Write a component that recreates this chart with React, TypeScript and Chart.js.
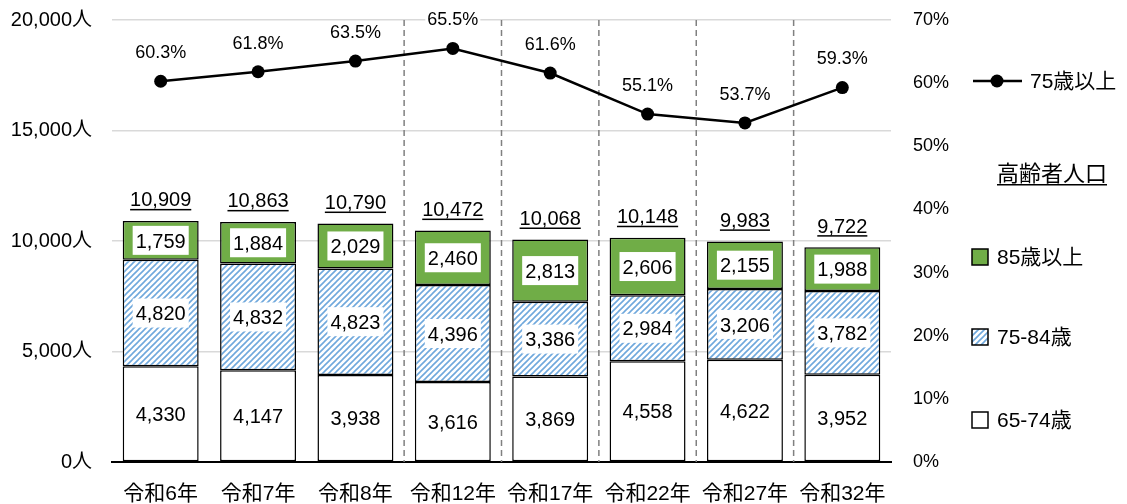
import React, { useEffect, useRef } from "react";
import { Chart, registerables } from "chart.js";

Chart.register(...registerables);

const categories = ["令和6年", "令和7年", "令和8年", "令和12年", "令和17年", "令和22年", "令和27年", "令和32年"];
const age65to74 = [4330, 4147, 3938, 3616, 3869, 4558, 4622, 3952];
const age75to84 = [4820, 4832, 4823, 4396, 3386, 2984, 3206, 3782];
const age85plus = [1759, 1884, 2029, 2460, 2813, 2606, 2155, 1988];
const totals = [10909, 10863, 10790, 10472, 10068, 10148, 9983, 9722];
const ratio75plus = [60.3, 61.8, 63.5, 65.5, 61.6, 55.1, 53.7, 59.3];
const dividerAfter = [2, 3, 4, 5, 6];

const FONT = "'Liberation Sans', 'Noto Sans CJK JP', sans-serif";
const GREEN = "#70AD47";
const BLUE = "#6FA8DC";

function makeHatch(): CanvasPattern | string {
  const c = document.createElement("canvas");
  const s = 6;
  c.width = s;
  c.height = s;
  const g = c.getContext("2d");
  if (!g) return "#ffffff";
  g.fillStyle = "#ffffff";
  g.fillRect(0, 0, s, s);
  g.strokeStyle = BLUE;
  g.lineWidth = 1.6;
  g.lineCap = "square";
  for (const off of [-s, 0, s]) {
    g.beginPath();
    g.moveTo(off, s);
    g.lineTo(off + s, 0);
    g.stroke();
  }
  const p = g.createPattern(c, "repeat");
  return p || "#ffffff";
}

function fmt(n: number) {
  return n.toLocaleString("en-US");
}

function noPad(scale: any) {
  scale.paddingTop = 0;
  scale.paddingBottom = 0;
}

export default function App() {
  const ref = useRef<HTMLCanvasElement | null>(null);

  useEffect(() => {
    const canvas = ref.current;
    if (!canvas) return;
    const hatch = makeHatch();

    const dividers = {
      id: "dividers",
      beforeDatasetsDraw(chart: any) {
        const { ctx, chartArea } = chart;
        const xs = chart.scales.x;
        ctx.save();
        ctx.strokeStyle = "#808080";
        ctx.lineWidth = 1.5;
        ctx.setLineDash([6, 4]);
        for (const i of dividerAfter) {
          const x = (xs.getPixelForValue(i) + xs.getPixelForValue(i + 1)) / 2;
          ctx.beginPath();
          ctx.moveTo(x, chartArea.top);
          ctx.lineTo(x, chartArea.bottom);
          ctx.stroke();
        }
        ctx.restore();
      },
    };

    const labels = {
      id: "labels",
      afterDatasetsDraw(chart: any) {
        const { ctx } = chart;
        ctx.save();
        ctx.font = `20px ${FONT}`;
        ctx.textAlign = "center";
        ctx.textBaseline = "alphabetic";
        const barSets = [1, 2, 3];
        barSets.forEach((di, k) => {
          const meta = chart.getDatasetMeta(di);
          const values = chart.data.datasets[di].data as number[];
          meta.data.forEach((el: any, j: number) => {
            const cy = (el.y + el.base) / 2;
            const txt = fmt(values[j]);
            const w = ctx.measureText(txt).width;
            if (k > 0) {
              ctx.fillStyle = "#ffffff";
              ctx.fillRect(el.x - w / 2 - 3, cy - 14.5, w + 6, 29);
            }
            ctx.fillStyle = "#000000";
            ctx.fillText(txt, el.x, cy + 7.2);
          });
        });
        // totals
        const topMeta = chart.getDatasetMeta(3);
        topMeta.data.forEach((el: any, j: number) => {
          const txt = fmt(totals[j]);
          const w = ctx.measureText(txt).width;
          const by = el.y - 14.5;
          ctx.fillStyle = "#000000";
          ctx.fillText(txt, el.x, by);
          ctx.fillRect(el.x - w / 2, by + 2.5, w, 1.5);
        });
        // percents
        ctx.font = `18px ${FONT}`;
        const lineMeta = chart.getDatasetMeta(0);
        lineMeta.data.forEach((el: any, j: number) => {
          const txt = ratio75plus[j].toFixed(1) + "%";
          const w = ctx.measureText(txt).width;
          const cy = el.y - 29.5;
          ctx.fillStyle = "#ffffff";
          ctx.fillRect(el.x - w / 2 - 2, cy - 9, w + 4, 18);
          ctx.fillStyle = "#000000";
          ctx.fillText(txt, el.x, cy + 6.4);
        });
        ctx.restore();
      },
    };

    const legend = {
      id: "customLegend",
      afterDraw(chart: any) {
        const { ctx } = chart;
        ctx.save();
        ctx.textAlign = "left";
        ctx.textBaseline = "middle";
        ctx.fillStyle = "#000000";
        ctx.strokeStyle = "#000000";
        // line item
        ctx.lineWidth = 2.5;
        ctx.beginPath();
        ctx.moveTo(973, 81);
        ctx.lineTo(1022, 81);
        ctx.stroke();
        ctx.beginPath();
        ctx.arc(997, 81, 6.5, 0, Math.PI * 2);
        ctx.fill();
        ctx.font = `21px ${FONT}`;
        ctx.fillText("75歳以上", 1030, 82);
        // heading
        ctx.font = `22px ${FONT}`;
        const head = "高齢者人口";
        const hw = ctx.measureText(head).width;
        ctx.fillText(head, 997, 175);
        ctx.fillRect(997, 184, hw, 1.5);
        // boxes
        const items: [string, any, number][] = [
          ["85歳以上", GREEN, 257],
          ["75-84歳", hatch, 337],
          ["65-74歳", "#ffffff", 420],
        ];
        ctx.font = `21px ${FONT}`;
        items.forEach(([t, fill, y]) => {
          ctx.fillStyle = fill;
          ctx.fillRect(972, y - 8, 16, 16);
          ctx.lineWidth = 1.5;
          ctx.strokeStyle = "#000000";
          ctx.strokeRect(972, y - 8, 16, 16);
          ctx.fillStyle = "#000000";
          ctx.fillText(t, 997, y + 1);
        });
        ctx.restore();
      },
    };

    const chart = new Chart(canvas, {
      type: "bar",
      data: {
        labels: categories,
        datasets: [
          {
            type: "line",
            label: "75歳以上",
            data: ratio75plus,
            yAxisID: "y1",
            borderColor: "#000000",
            backgroundColor: "#000000",
            borderWidth: 2.5,
            pointRadius: 6.5,
            pointBackgroundColor: "#000000",
            pointBorderWidth: 0,
            order: 0,
          } as any,
          {
            label: "65-74歳",
            data: age65to74,
            backgroundColor: "#ffffff",
            borderColor: "#000000",
            borderWidth: 1.5,
            borderSkipped: false,
            stack: "s",
            yAxisID: "y",
            order: 1,
          },
          {
            label: "75-84歳",
            data: age75to84,
            backgroundColor: hatch as any,
            borderColor: "#000000",
            borderWidth: 1.5,
            borderSkipped: false,
            stack: "s",
            yAxisID: "y",
            order: 1,
          },
          {
            label: "85歳以上",
            data: age85plus,
            backgroundColor: GREEN,
            borderColor: "#000000",
            borderWidth: 1.5,
            borderSkipped: false,
            stack: "s",
            yAxisID: "y",
            order: 1,
          },
        ],
      },
      options: {
        responsive: false,
        animation: false,
        events: [],
        layout: { padding: { top: 20, left: 0, right: 0, bottom: 0 } },
        datasets: { bar: { barPercentage: 0.78, categoryPercentage: 1 } },
        plugins: { legend: { display: false }, tooltip: { enabled: false } },
        scales: {
          x: {
            stacked: true,
            grid: { display: false, drawTicks: false },
            border: { display: true, color: "#000000", width: 2 },
            ticks: { color: "#000000", font: { size: 21, family: FONT }, padding: 20, maxRotation: 0, autoSkip: false },
            afterFit(scale: any) {
              scale.height = 42;
              scale.paddingLeft = 0;
              scale.paddingRight = 0;
            },
          },
          y: {
            stacked: true,
            position: "left",
            min: 0,
            max: 20000,
            ticks: {
              stepSize: 5000,
              color: "#000000",
              font: { size: 20, family: FONT },
              padding: 20,
              callback: (v: any) => fmt(Number(v)) + "人",
            },
            grid: { color: "#D9D9D9", lineWidth: 1.5, drawTicks: false },
            border: { display: false },
            afterFit(scale: any) {
              scale.width = 112;
              noPad(scale);
            },
          },
          y1: {
            position: "right",
            min: 0,
            max: 70,
            ticks: {
              stepSize: 10,
              color: "#000000",
              font: { size: 18, family: FONT },
              padding: 22,
              callback: (v: any) => v + "%",
            },
            grid: { display: false, drawTicks: false },
            border: { display: false },
            afterFit(scale: any) {
              scale.width = 236;
              noPad(scale);
            },
          },
        },
      },
      plugins: [dividers, labels, legend],
    });
    return () => chart.destroy();
  }, []);

  return (
    <div style={{ position: "fixed", left: 0, top: 0, width: 1127, height: 504, background: "#ffffff" }}>
      <canvas ref={ref} width={1127} height={504} style={{ display: "block" }} />
    </div>
  );
}
